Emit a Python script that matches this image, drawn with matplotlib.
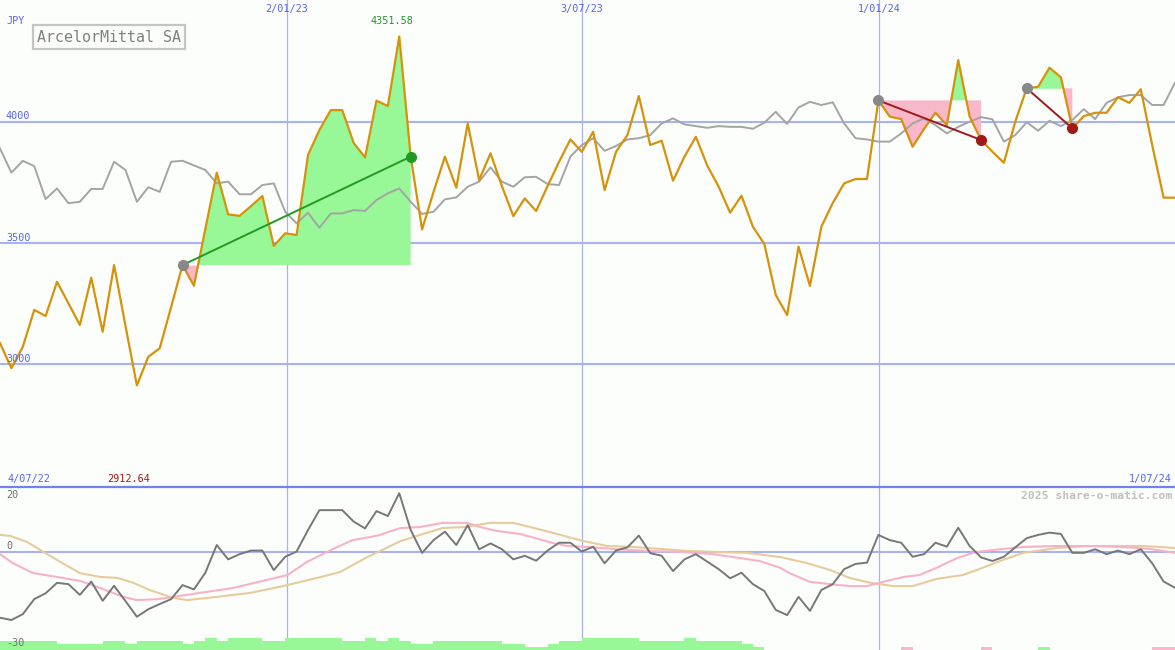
import matplotlib
matplotlib.use("Agg")
import matplotlib.pyplot as plt
import numpy as np

# -------- data (weekly, 4/07/22 .. 1/07/24) --------
price = [3087, 2984, 3072, 3224, 3199, 3340, 3251, 3162, 3357, 3134,
         3409, 3158, 2912.64, 3031, 3066, 3236, 3409, 3324, 3558, 3790,
         3618, 3612, 3652, 3694, 3488, 3540, 3533, 3863, 3966, 4048,
         4048, 3913, 3853, 4087, 4065, 4351.58, 3856, 3556, 3710, 3856,
         3728, 3993, 3760, 3870, 3734, 3611, 3684, 3632, 3735, 3834,
         3927, 3876, 3959, 3718, 3876, 3945, 4106, 3904, 3922, 3757,
         3856, 3938, 3819, 3732, 3625, 3695, 3567, 3496, 3286, 3203,
         3485, 3323, 3567, 3665, 3746, 3764, 3764, 4088, 4021, 4011,
         3897, 3970, 4037, 3986, 4254, 4021, 3925, 3876, 3831, 4001,
         4138, 4144, 4223, 4183, 3973, 4023, 4037, 4037, 4101, 4078,
         4134, 3904, 3687, 3687]

compare = [3890, 3790, 3839, 3817, 3681, 3725, 3664, 3670, 3723, 3723,
           3835, 3801, 3670, 3730, 3711, 3835, 3839, 3820, 3801, 3746,
           3753, 3701, 3701, 3739, 3746, 3629, 3581, 3625, 3563, 3622,
           3622, 3636, 3632, 3677, 3705, 3725, 3670, 3620, 3629, 3680,
           3688, 3732, 3753, 3812, 3753, 3732, 3771, 3773, 3743, 3739,
           3856, 3904, 3932, 3880, 3900, 3927, 3932, 3945, 3993, 4014,
           3989, 3982, 3975, 3982, 3979, 3979, 3971, 3996, 4041, 3991,
           4059, 4082, 4069, 4080, 3993, 3932, 3927, 3918, 3918, 3952,
           3993, 4014, 3986, 3952, 3979, 4000, 4019, 4010, 3918, 3945,
           3998, 3963, 4004, 3982, 4007, 4052, 4011, 4078, 4101, 4110,
           4110, 4069, 4069, 4161]

momentum = [-20.1, -20.8, -19.0, -14.4, -12.6, -9.4, -9.8, -13.1, -9.0, -14.9,
            -10.3, -15.0, -19.8, -17.5, -15.9, -14.4, -10.1, -11.4, -6.3, 2.2,
            -2.2, -0.6, 0.5, 0.5, -5.5, -1.4, 0.2, 6.8, 12.9, 12.9,
            12.9, 9.4, 7.3, 12.6, 11.1, 18.1, 6.8, -0.2, 3.7, 6.3,
            2.2, 8.3, 0.9, 2.7, 0.9, -2.2, -1.1, -2.6, 0.5, 2.9,
            2.9, 0.2, 1.7, -3.4, 0.5, 1.5, 5.1, -0.3, -1.1, -5.8,
            -2.2, -0.6, -2.9, -5.2, -8.0, -6.3, -9.8, -11.9, -17.7, -19.3,
            -13.7, -18.0, -11.6, -9.8, -5.2, -3.6, -3.2, 5.3, 3.7, 2.9,
            -1.4, -0.6, 2.9, 1.7, 7.5, 1.9, -1.6, -2.7, -1.4, 1.5,
            4.3, 5.3, 6.0, 5.6, -0.2, -0.2, 0.9, -0.6, 0.5, -0.6,
            0.9, -3.4, -9.0, -10.9]

pink_x = [0, 1.1, 2.9, 5, 7, 8.8, 10.8, 12, 13.8, 15.2, 17.5, 20.4, 23.4, 25.2,
          26.9, 29.2, 30.9, 33, 35.1, 36.8, 38.8, 40.9, 42.1, 43.6, 45.6, 48.5,
          49.7, 51.5, 53.7, 56.7, 59.6, 62.5, 64.3, 66.6, 68.4, 69.2, 71, 72.8,
          74.5, 76, 77.4, 79.2, 80.6, 82.1, 83.9, 85.6, 87.9, 89.7, 92.7, 95.5,
          98.4, 100.8, 103]
pink_y = [-0.6, -3.3, -6.4, -7.6, -8.8, -11.0, -13.7, -14.7, -14.4, -13.7, -12.5,
          -11.0, -8.5, -7.0, -3.0, 1.0, 3.7, 5.0, 7.4, 7.7, 9.0, 9.0, 7.7, 6.5,
          5.6, 2.8, 1.9, 1.6, 1.0, 0.4, 0.1, -0.6, -1.5, -2.7, -4.8, -6.4, -9.1,
          -9.8, -10.4, -10.4, -9.1, -7.6, -7.0, -4.8, -1.8, 0.1, 1.0, 1.6, 1.9,
          1.9, 1.6, 1.0, -0.2]

tan_x = [0, 0.9, 2.4, 3.8, 5.3, 7, 8.8, 10.3, 11.7, 13.1, 15.2, 16.4, 19, 21.9,
         24.8, 27.8, 29.8, 32.2, 35.1, 36.8, 38.8, 40.6, 43, 45, 46.5, 48.5,
         50.8, 53.2, 55.5, 57.9, 60.2, 62.5, 65.5, 68.4, 70.7, 72.8, 74.5,
         76.3, 78.3, 80, 82.1, 84.4, 85.6, 87.9, 89.7, 92.7, 95.5, 100.2, 103]
tan_y = [5.3, 5.0, 3.1, 0.1, -3.0, -6.4, -7.6, -7.9, -9.4, -11.6, -14.0, -14.7,
         -13.7, -12.5, -10.4, -7.9, -6.1, -1.5, 3.4, 5.3, 7.4, 7.7, 9.0, 9.0,
         7.7, 5.9, 3.7, 1.9, 1.6, 1.0, 0.4, 0.1, -0.2, -1.5, -3.3, -5.5, -7.9,
         -9.4, -10.4, -10.4, -8.2, -7.0, -5.5, -2.4, -0.2, 1.3, 1.9, 1.9, 1.3]

# signal bars at the bottom (height level, +green / -pink)
bar_levels = [3, 3, 3, 3, 3, 2, 2, 2, 2, 3, 3, 2, 3, 3, 3, 3, 2, 3, 4, 3,
              4, 4, 4, 3, 3, 4, 4, 4, 4, 4, 3, 3, 4, 3, 4, 3, 2, 2, 3, 3,
              3, 3, 3, 3, 2, 2, 1, 1, 2, 3, 3, 4, 4, 4, 4, 4, 3, 3, 3, 3,
              4, 3, 3, 3, 3, 2, 1, 0, 0, 0, 0, 0, 0, 0, 0, 0, 0, 0, 0, -1,
              0, 0, 0, 0, 0, 0, -1, 0, 0, 0, 0, 1, 0, 0, 0, 0, 0, 0, 0, 0,
              0, -1, -1, 0]

# trend windows (start week, end week)
trends = [(16, 36), (77, 86), (90, 94)]

date_labels = ["2/01/23", "3/07/23", "1/01/24"]
date_pos = [25.15, 51.0, 77.05]
price_levels = [4000, 3500, 3000]

# -------- style --------
BG = "#fcfefc"
GRID = "#a6b2f2"
SEP = "#7282ea"
LBL = "#5565ee"
ORANGE = "#d6920a"
GREEN_FILL = "#98f898"
PINK_FILL = "#f8b8ca"
MONO = "DejaVu Sans Mono"

W, H = 1175, 650
fig = plt.figure(figsize=(W / 100, H / 100), dpi=100, facecolor=BG)
ax = fig.add_axes([0, 163 / H, 1, 487 / H])
ax2 = fig.add_axes([0, 0, 1, 163 / H])
for a in (ax, ax2):
    a.set_facecolor(BG)
    a.set_axis_off()
    a.set_xlim(0, 103)

x = np.arange(len(price))
p = np.array(price, dtype=float)

# -------- main panel --------
ax.set_ylim(2494, 4502)
for lv in price_levels:
    ax.axhline(lv, color=GRID, lw=1.5, zorder=1)
for d in date_pos:
    ax.axvline(d, color=GRID, lw=0.9, zorder=1)
    ax2.axvline(d, color=GRID, lw=0.9, zorder=1)

for s, e in trends:
    xs = x[s:e + 1]
    ys = p[s:e + 1]
    base = p[s]
    ax.fill_between(xs, ys, base, where=ys >= base, interpolate=True,
                    color=GREEN_FILL, lw=0, zorder=2)
    ax.fill_between(xs, ys, base, where=ys <= base, interpolate=True,
                    color=PINK_FILL, lw=0, zorder=2)

ax.plot(x, compare, color="#a4a4a4", lw=1.4, zorder=3)
ax.plot(x, p, color=ORANGE, lw=1.6, zorder=4)

for s, e in trends:
    up = p[e] > p[s]
    col = "#229a22" if up else "#a01a1a"
    ax.plot([s, e], [p[s], p[e]], color=col, lw=1.4, zorder=5)
    ax.plot(s, p[s], "o", color="#888888", ms=7, zorder=6)
    ax.plot(e, p[e], "o", color=col, ms=7, zorder=6)

# -------- lower panel --------
ax2.set_ylim(-30, 20)
ax2.axhline(0, color=GRID, lw=1.5, zorder=1)
ax2.axhline(20, color=SEP, lw=1.6, zorder=6, clip_on=False)
ax2.plot(tan_x, tan_y, color="#e6cc9c", lw=1.5, zorder=3)
ax2.plot(pink_x, pink_y, color="#f8b2c8", lw=1.5, zorder=3)
ax2.plot(x, momentum, color="#777777", lw=1.4, zorder=4)
lv = np.array(bar_levels)
cols = [GREEN_FILL if v > 0 else PINK_FILL for v in lv]
ax2.bar(x[lv != 0] + 0.5, np.abs(lv[lv != 0]) * 0.95, width=1.0,
        bottom=-30, color=[c for c, v in zip(cols, lv) if v != 0],
        lw=0, zorder=2)


# -------- text --------
def txt(px, py, s, color=LBL, size=7.3, ha="left", **kw):
    fig.text(px / W, 1 - py / H, s, color=color, fontsize=size, ha=ha,
             va="center", family=MONO, **kw)


txt(6, 21, "JPY")
for lv_, py in zip(price_levels, [116, 238, 359]):
    txt(6, py, str(lv_))
for lab, xp in zip(date_labels, [287, 582, 879]):
    txt(xp, 9, lab, ha="center")
txt(392, 21, "4351.58", color="#22962a", ha="center")
txt(8, 479, "4/07/22")
txt(129, 479, "2912.64", color="#a01a1a", ha="center")
txt(1172, 479, "1/07/24", ha="right")
txt(1172, 496, "2025 share-o-matic.com", color="#c0c0c0", size=8.2,
    ha="right", weight="bold")
txt(6, 495, "20", color="#707070")
txt(6, 546, "0", color="#707070")
txt(6, 643, "-30", color="#707070")

fig.text(37 / W, 1 - 37 / H, "ArcelorMittal SA", color="#808080",
         fontsize=10.8, family=MONO, va="center", ha="left",
         bbox=dict(boxstyle="square,pad=0.28", fc=BG, ec="#c4c4c4", lw=1.6))

fig.savefig("out.png", dpi=100, facecolor=BG)
